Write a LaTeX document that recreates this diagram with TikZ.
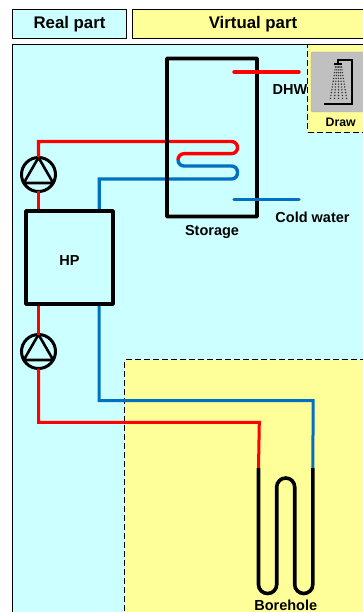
\documentclass[tikz,border=0pt]{standalone}
\usepackage{fontspec}
\setmainfont{Liberation Sans}
\usepackage{xcolor}
\usetikzlibrary{positioning,calc}
\definecolor{realcyan}{HTML}{CCFFFF}
\definecolor{virtyellow}{HTML}{FFFF99}
\definecolor{hotred}{HTML}{FF0000}
\definecolor{coldblue}{HTML}{0070C0}
\definecolor{icongray}{HTML}{C0C0C0}
\tikzset{
  headbox/.style={
    rectangle, draw=black, fill=#1, line width=1pt,
    minimum height=29pt, inner sep=0pt, outer sep=0pt,
    font=\fontsize{16.8}{18}\selectfont\bfseries
  },
  zonebox/.style={rectangle, draw=black, fill=#1, dash pattern=on 6pt off 3pt, line width=1pt, inner sep=0pt, outer sep=0pt},
  unitbox/.style={rectangle, draw=black, line width=3.6pt, inner sep=0pt, outer sep=0pt, rounded corners=0.5pt},
  pumpnode/.style={circle, draw=black, fill=realcyan, line width=3pt, minimum size=34pt, inner sep=0pt, outer sep=0pt},
  hotpipe/.style={draw=hotred, line width=3.4pt},
  coldpipe/.style={draw=coldblue, line width=3.4pt},
  groundpipe/.style={draw=black, line width=3.6pt, rounded corners=9pt},
  labelnode/.style={font=\fontsize{14.5}{16}\selectfont\bfseries, inner sep=0pt},
}
\begin{document}
\begin{tikzpicture}[x=1pt,y=-1pt]
\useasboundingbox (0,0) rectangle (363,612);
\clip (0,0) rectangle (363,612);

% Headers
\node[headbox=realcyan, minimum width=114pt, anchor=north west] (real) at (12.5,10) {Real part};
\node[headbox=virtyellow, minimum width=240pt, anchor=north west] (virt) at (132,10) {};
\node[font=\fontsize{16.8}{18}\selectfont\bfseries] (virttext) at (253,24.5) {Virtual part};

% Zones
\node[rectangle, draw=black, fill=realcyan, line width=1pt, minimum width=370pt, minimum height=580pt, anchor=north west, inner sep=0pt, outer sep=0pt] (realzone) at (12.5,44.5) {};
\node[labelnode, anchor=center] (dhw) at (290,89.5) {DHW};
\node[zonebox=virtyellow, minimum width=70pt, minimum height=87.5pt, anchor=north west] (drawzone) at (307.5,45) {};
\node[zonebox=virtyellow, minimum width=260pt, minimum height=270pt, anchor=north west] (groundzone) at (124.7,359.7) {};

% Heat pump and pumps
\node[unitbox, minimum width=87pt, minimum height=93pt, anchor=north west] (hp) at (26,211) {};
\node[labelnode] (hptext) at (69.5,261) {HP};
\node[pumpnode] (pumpa) at (38.5,174.5) {};
\node[pumpnode] (pumpb) at (38.5,351.5) {};
\foreach \p in {pumpa,pumpb} {
  \draw[line width=2.6pt, line join=round] (\p.north) -- (\p.210) -- (\p.330) -- cycle;
}

% Coil points
\coordinate (hpa) at (38.5,209);
\coordinate (hpb) at (38.5,306);
\coordinate (hpc) at (99.2,209);
\coordinate (hpd) at (99.2,306);
\coordinate (coilin) at (160,141.5);
\coordinate (coilra) at (237.5,141.5);
\coordinate (coilrb) at (237.5,153.7);
\coordinate (coilla) at (178,153.7);
\coordinate (coilmid) at (178,160);
\coordinate (coillb) at (178,166);
\coordinate (coilrc) at (237.5,166);
\coordinate (coilrd) at (237.5,179);
\coordinate (coilout) at (160,179);

% Pipes to the storage
\draw[hotpipe] (hpa) -- (pumpa.south);
\draw[hotpipe] (pumpa.north) |- (coilin) [rounded corners=6pt] -- (coilra) -- (coilrb) -- (coilla) -- (coilmid);
\draw[coldpipe] (coilmid) [rounded corners=6pt] -- (coillb) -- (coilrc) -- (coilrd) -- (coilout) [sharp corners] -| (hpc);

% Storage
\node[unitbox, minimum width=90pt, minimum height=158pt, anchor=north west] (storage) at (167,58.5) {};
\node[labelnode, below=8.5pt of storage] (storagetext) {Storage};

% Hot and cold water
\coordinate (dhwa) at (234,72);
\coordinate (dhwb) at (299,72);
\coordinate (cwa) at (234,199.5);
\coordinate (cwb) at (299,199.5);
\draw[hotpipe, line cap=round] (dhwa) -- (dhwb);
\draw[coldpipe, line cap=round] (cwa) -- (cwb);
\node[labelnode, anchor=center] (cold) at (312.5,217.5) {Cold water};

% Borehole
\coordinate (bha) at (258.5,468);
\coordinate (bhb) at (258.5,593.5);
\coordinate (bhc) at (276.7,593.5);
\coordinate (bhd) at (276.7,478);
\coordinate (bhe) at (294.7,478);
\coordinate (bhf) at (294.7,593.5);
\coordinate (bhg) at (312.8,593.5);
\coordinate (bhh) at (312.8,468);
\coordinate (bhi) at (259.3,422.3);
\coordinate (bhj) at (313.2,400.7);
\draw[hotpipe, line width=3pt] (hpb) -- (pumpb.north);
\draw[hotpipe, line width=3pt] (pumpb.south) |- (bhi) -- (bha);
\draw[coldpipe, line width=3pt] (hpd) |- (bhj) -- (bhh);
\draw[groundpipe] (bha) -- (bhb) -- (bhc) -- (bhd) -- (bhe) -- (bhf) -- (bhg) -- (bhh);
\node[labelnode, anchor=center] (borehole) at (285.7,605) {Borehole};

% Draw icon
\node[rectangle, draw=gray!70, fill=icongray, rounded corners=2pt, minimum width=60pt, minimum height=60pt, anchor=north west, inner sep=0pt, outer sep=0pt] (icon) at (311,52) {};
\node[font=\fontsize{12.3}{14}\selectfont\bfseries, inner sep=0pt] (drawtext) at (340.7,122) {Draw};
\draw[line width=2pt] (338,63) -- (338,60.5) -- (352,60.5) -- (352,104);
\draw[line width=2.6pt] (324,104) -- (353,104);
\draw[line width=2pt] (334,64) -- (342,64);
\foreach \r in {0,...,11} {
  \foreach \c in {-2,...,2} {
    \fill[black!80] ({338.5+\c*(1.5+\r*0.23)},{67+\r*2.85}) circle (0.8pt);
  }
}
\end{tikzpicture}
\end{document}
